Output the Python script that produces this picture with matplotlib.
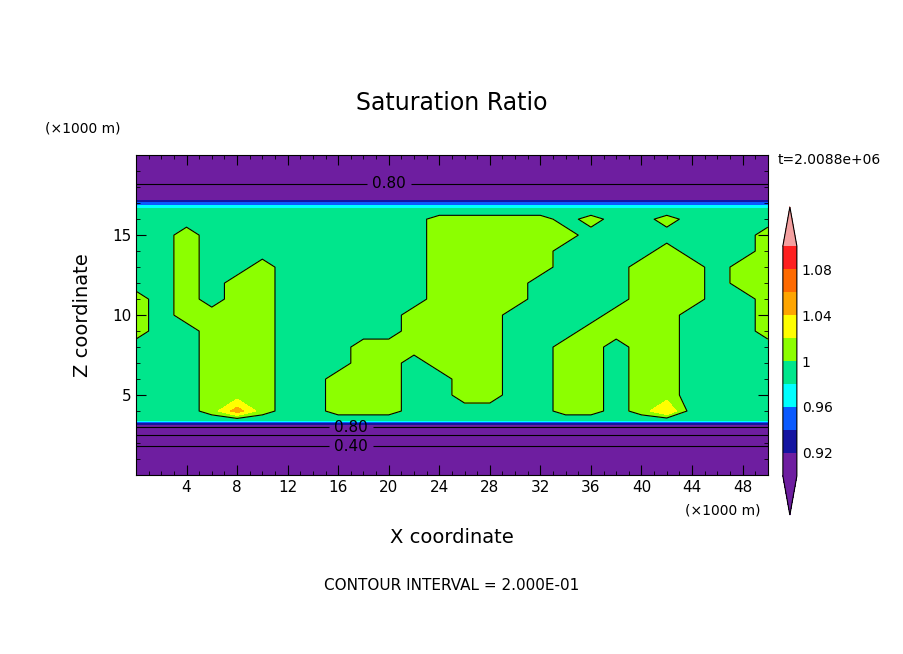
import matplotlib
matplotlib.use("Agg")
import matplotlib.pyplot as plt
from matplotlib.colors import ListedColormap, BoundaryNorm
import numpy as np

# grid (km)
x_km = list(range(0, 51, 2))
# profile rows below / above the cloud layer: (z, value)
z_low = [0.0, 1.0, 1.8, 2.5, 3.0, 3.15, 3.4]
v_low = [0.30, 0.36, 0.40, 0.60, 0.80, 0.92, 0.985]
z_high = [16.6, 17.0, 17.3, 18.2, 20.0]
v_high = [0.985, 0.95, 0.90, 0.80, 0.76]
# mid layer z = 4..16, mask of supersaturated (>1) plumes, columns x = 0..50 step 2
z_mid = list(range(4, 17))
plume_mask = [
    [0,0,0,1,1,1,0,0,1,1,1,0,0,0,0,0,0,1,1,0,1,1,0,0,0,0],  # 4
    [0,0,0,1,1,1,0,0,1,1,1,0,0,1,1,0,0,1,1,0,1,1,0,0,0,0],  # 5
    [0,0,0,1,1,1,0,0,1,1,1,0,0,1,1,0,0,1,1,0,1,1,0,0,0,0],  # 6
    [0,0,0,1,1,1,0,0,0,1,1,0,1,1,1,0,0,1,1,0,1,1,0,0,0,0],  # 7
    [0,0,0,1,1,1,0,0,0,1,1,1,1,1,1,0,0,1,1,0,1,1,0,0,0,0],  # 8
    [1,0,0,1,1,1,0,0,0,0,0,1,1,1,1,0,0,0,1,1,1,1,0,0,0,1],  # 9
    [1,0,1,1,1,1,0,0,0,0,0,1,1,1,1,0,0,0,0,1,1,1,0,0,0,1],  # 10
    [1,0,1,0,1,1,0,0,0,0,0,0,1,1,1,1,0,0,0,0,1,1,1,0,0,1],  # 11
    [0,0,1,0,1,1,0,0,0,0,0,0,1,1,1,1,0,0,0,0,1,1,1,0,1,1],  # 12
    [0,0,1,0,0,1,0,0,0,0,0,0,1,1,1,1,1,0,0,0,1,1,1,0,1,1],  # 13
    [0,0,1,0,0,0,0,0,0,0,0,0,1,1,1,1,1,0,0,0,0,1,0,0,0,1],  # 14
    [0,0,1,0,0,0,0,0,0,0,0,0,1,1,1,1,1,1,0,0,0,0,0,0,0,1],  # 15
    [0,0,0,0,0,0,0,0,0,0,0,0,1,1,1,1,1,0,1,0,0,1,0,0,0,0],  # 16
]
# warm spots at cloud base: (x index, value) on z=4 row
hot_spots = [(4, 1.05), (21, 1.04)]

levels = [0.90, 0.92, 0.94, 0.96, 0.98, 1.00, 1.02, 1.04, 1.06, 1.08, 1.10]
colors = ["#6e1ea0", "#1414a0", "#0a5aff", "#00ffff", "#00e68c",
          "#8cff00", "#ffff00", "#ffa500", "#ff6a00", "#ff2020"]

nx = len(x_km)
mid = 0.99 + 0.02 * np.array(plume_mask, dtype=float)
for i, v in hot_spots:
    mid[0, i] = v
rows = [np.full(nx, v) for v in v_low] + list(mid) + [np.full(nx, v) for v in v_high]
zz = np.array(z_low + z_mid + z_high)
field = np.vstack(rows)
X, Z = np.meshgrid(x_km, zz)

fig = plt.figure(figsize=(9.04, 6.54), dpi=100)
ax = fig.add_axes([0.1504, 0.2737, 0.699, 0.489])
cmap = ListedColormap(colors)
cmap.set_under("#6e1ea0")
cmap.set_over("#f4a0a0")
norm = BoundaryNorm(levels, cmap.N)
cf = ax.contourf(X, Z, field, levels=levels, cmap=cmap, norm=norm, extend="both")
ax.contour(X, Z, field, levels=[0.2, 0.6, 1.0], colors="k", linewidths=0.8)
cs = ax.contour(X, Z, field, levels=[0.4, 0.8], colors="k", linewidths=0.8)
ax.clabel(cs, fmt="%.2f", fontsize=11, inline=True,
          manual=[(20, 18.2), (17, 3.0), (17, 1.8)])

ax.set_xlim(0, 50)
ax.set_ylim(0, 20)
ax.set_xticks(range(4, 49, 4))
ax.set_xticks(range(0, 51, 1), minor=True)
ax.set_yticks([5, 10, 15])
ax.set_yticks(range(0, 21, 1), minor=True)
ax.tick_params(direction="in", which="both", top=True, right=True, labelsize=11)
ax.tick_params(which="major", length=7)
ax.tick_params(which="minor", length=3)
ax.set_xlabel("X coordinate", fontsize=14, labelpad=24)
ax.set_ylabel("Z coordinate", fontsize=14, labelpad=14)

fig.text(0.5, 0.842, "Saturation Ratio", ha="center", va="center", fontsize=17)
fig.text(0.05, 0.804, "(×1000 m)", ha="left", va="center", fontsize=10)
fig.text(0.758, 0.220, "(×1000 m)", ha="left", va="center", fontsize=10)
fig.text(0.860, 0.755, "t=2.0088e+06", ha="left", va="center", fontsize=10)
fig.text(0.5, 0.105, "CONTOUR INTERVAL = 2.000E-01", ha="center", va="center", fontsize=11)

cax = fig.add_axes([0.866, 0.2125, 0.0155, 0.471])
cb = fig.colorbar(cf, cax=cax, ticks=[0.92, 0.96, 1.00, 1.04, 1.08], extendfrac=0.17)
cb.ax.set_yticklabels(["0.92", "0.96", "1", "1.04", "1.08"])
cb.ax.minorticks_off()
cb.ax.tick_params(length=0, labelsize=10)

fig.savefig("out.png", dpi=100)
